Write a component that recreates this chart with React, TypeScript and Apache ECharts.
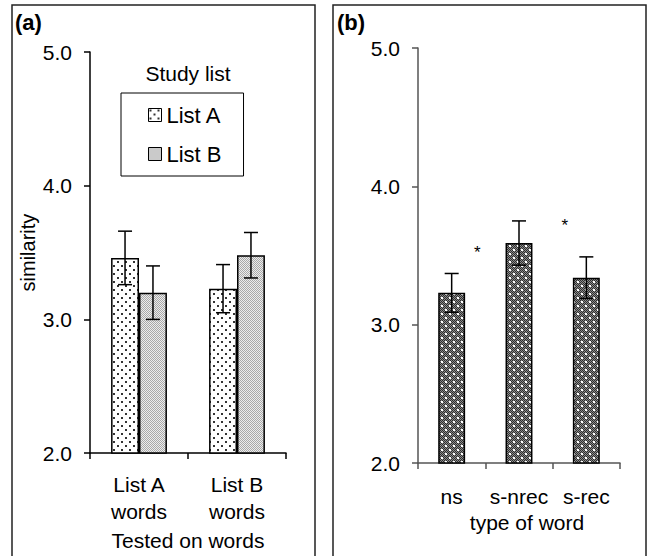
import React, { useEffect, useRef } from 'react';
import * as echarts from 'echarts';

// ---- data ----
const panelACategories = ['List A\nwords', 'List B\nwords'];
const studyListNames = ['List A', 'List B'];
const listAMeans = [3.46, 3.23];
const listAErrors = [0.2, 0.18];
const listBMeans = [3.2, 3.48];
const listBErrors = [0.2, 0.17];

const panelBCategories = ['ns', 's-nrec', 's-rec'];
const wordTypeMeans = [3.23, 3.59, 3.34];
const wordTypeErrors = [0.14, 0.16, 0.15];
// asterisk marks: value and offset (in bands) from first category
const asteriskValues = [3.56, 3.75];
const asteriskOffsets = [0.38, 1.68];

const yMin = 2;
const yMax = 5;
const yInterval = 1;

const FONT = '"Liberation Sans", Arial, sans-serif';

function makeTile(size: number, draw: (ctx: CanvasRenderingContext2D) => void) {
  const c = document.createElement('canvas');
  c.width = size;
  c.height = size;
  const ctx = c.getContext('2d')!;
  draw(ctx);
  return { image: c, repeat: 'repeat' } as any;
}

export default function App() {
  const ref = useRef<HTMLDivElement>(null);
  useEffect(() => {
    if (!ref.current) return;
    const chart = echarts.init(ref.current, undefined, { renderer: 'svg' });

    const patA = makeTile(8, (ctx) => {
      ctx.fillStyle = '#ffffff';
      ctx.fillRect(0, 0, 8, 8);
      ctx.fillStyle = '#333333';
      ctx.fillRect(1, 1, 2, 2);
      ctx.fillRect(5, 5, 2, 2);
    });
    const patB = makeTile(2, (ctx) => {
      ctx.fillStyle = '#ececec';
      ctx.fillRect(0, 0, 2, 2);
      ctx.fillStyle = '#a8a8a8';
      ctx.fillRect(0, 0, 1, 1);
      ctx.fillRect(1, 1, 1, 1);
    });
    const patC = makeTile(8, (ctx) => {
      ctx.fillStyle = '#8c8c8c';
      ctx.fillRect(0, 0, 8, 8);
      ctx.fillStyle = '#2e2e2e';
      for (let y = 0; y < 8; y++) for (let x = 0; x < 8; x++) if ((x + y) % 2 === 0) ctx.fillRect(x, y, 1, 1);
      ctx.fillStyle = '#ffffff';
      ctx.fillRect(1, 1, 2, 2);
      ctx.fillRect(5, 5, 2, 2);
    });

    const gapA = 0.43;
    const gapB = 0.6;

    const errRender = (sign: number, gap: number, nSeries: number) => (params: any, api: any) => {
      const x = api.value(0);
      const m = api.value(1);
      const e = api.value(2);
      const band = api.size([1, 0])[0];
      const bw = (band * (1 - gap)) / nSeries;
      const top = api.coord([x, m + e]);
      const bot = api.coord([x, m - e]);
      const cx = top[0] + (sign * bw) / 2;
      const cap = 7;
      const st = { stroke: '#000', lineWidth: 1.5 };
      return {
        type: 'group',
        children: [
          { type: 'line', shape: { x1: cx, y1: top[1], x2: cx, y2: bot[1] }, style: st },
          { type: 'line', shape: { x1: cx - cap, y1: top[1], x2: cx + cap, y2: top[1] }, style: st },
          { type: 'line', shape: { x1: cx - cap, y1: bot[1], x2: cx + cap, y2: bot[1] }, style: st },
        ],
      };
    };

    const yAxisBase = (color: string) => ({
      type: 'value',
      min: yMin,
      max: yMax,
      interval: yInterval,
      axisLine: { show: true, lineStyle: { color, width: 1.5 } },
      axisTick: { show: true, length: 6, lineStyle: { color, width: 1.5 } },
      splitLine: { show: false },
      axisLabel: {
        formatter: (v: number) => v.toFixed(1),
        fontSize: 21,
        color: '#000',
        fontFamily: FONT,
        margin: 18,
      },
    });

    const option: any = {
      animation: false,
      backgroundColor: '#fff',
      textStyle: { fontFamily: FONT },
      graphic: [
        { type: 'rect', shape: { x: 12, y: 5, width: 303, height: 600 }, style: { fill: 'none', stroke: '#222', lineWidth: 1.5 }, z: -1 },
        { type: 'rect', shape: { x: 333, y: 5, width: 313, height: 600 }, style: { fill: 'none', stroke: '#222', lineWidth: 1.5 }, z: -1 },
        { type: 'text', left: 15, top: 11, style: { text: '(a)', font: `bold 22px ${FONT}`, fill: '#000' } },
        { type: 'text', left: 337, top: 11, style: { text: '(b)', font: `bold 22px ${FONT}`, fill: '#000' } },
        { type: 'text', x: 188, y: 73, style: { text: 'Study list', font: `21px ${FONT}`, fill: '#000', align: 'center', verticalAlign: 'middle' } },
      ],
      legend: {
        data: studyListNames,
        orient: 'vertical',
        left: 121,
        top: 93,
        padding: [11, 22, 11, 27],
        itemGap: 17,
        itemWidth: 13,
        itemHeight: 13,
        icon: 'rect',
        borderColor: '#000',
        borderWidth: 1,
        backgroundColor: '#fff',
        textStyle: { fontSize: 22, color: '#000', fontFamily: FONT },
        itemStyle: { borderColor: '#000', borderWidth: 1 },
      },
      grid: [
        { left: 90, right: 363, top: 52, bottom: 99 },
        { left: 418, right: 29, top: 48, bottom: 93 },
      ],
      xAxis: [
        {
          type: 'category',
          gridIndex: 0,
          data: panelACategories,
          axisLine: { lineStyle: { color: '#000', width: 1.5 } },
          axisTick: { show: true, length: 6, lineStyle: { color: '#000', width: 1.5 } },
          axisLabel: { interval: 0, fontSize: 21, color: '#000', fontFamily: FONT, margin: 18, lineHeight: 27 },
          name: 'Tested on words',
          nameLocation: 'middle',
          nameGap: 72,
          nameTextStyle: { fontSize: 21, color: '#000', fontFamily: FONT },
        },
        {
          type: 'category',
          gridIndex: 1,
          data: panelBCategories,
          axisLine: { lineStyle: { color: '#555', width: 1.5 } },
          axisTick: { show: true, length: 6, lineStyle: { color: '#555', width: 1.5 } },
          axisLabel: { interval: 0, fontSize: 21, color: '#000', fontFamily: FONT, margin: 23 },
          name: 'type of word',
          nameLocation: 'middle',
          nameGap: 43,
          nameTextStyle: { fontSize: 21, color: '#000', fontFamily: FONT, padding: [0, 0, 0, 16] },
        },
      ],
      yAxis: [
        {
          ...yAxisBase('#000'),
          gridIndex: 0,
          name: 'similarity',
          nameLocation: 'middle',
          nameRotate: 90,
          nameGap: 52,
          nameTextStyle: { fontSize: 20, color: '#000', fontFamily: FONT },
        },
        { ...yAxisBase('#555'), gridIndex: 1 },
      ],
      series: [
        {
          name: 'List A',
          type: 'bar',
          xAxisIndex: 0,
          yAxisIndex: 0,
          data: listAMeans,
          barGap: '0%',
          barCategoryGap: `${gapA * 100}%`,
          itemStyle: { color: patA, borderColor: '#000', borderWidth: 1.5 },
        },
        {
          name: 'List B',
          type: 'bar',
          xAxisIndex: 0,
          yAxisIndex: 0,
          data: listBMeans,
          barGap: '0%',
          barCategoryGap: `${gapA * 100}%`,
          itemStyle: { color: patB, borderColor: '#000', borderWidth: 1.5 },
        },
        {
          name: 'errA',
          type: 'custom',
          xAxisIndex: 0,
          yAxisIndex: 0,
          silent: true,
          z: 10,
          renderItem: errRender(-1, gapA, 2),
          data: listAMeans.map((m, i) => [i, m, listAErrors[i]]),
        },
        {
          name: 'errB',
          type: 'custom',
          xAxisIndex: 0,
          yAxisIndex: 0,
          silent: true,
          z: 10,
          renderItem: errRender(1, gapA, 2),
          data: listBMeans.map((m, i) => [i, m, listBErrors[i]]),
        },
        {
          name: 'word type',
          type: 'bar',
          xAxisIndex: 1,
          yAxisIndex: 1,
          data: wordTypeMeans,
          barCategoryGap: `${gapB * 100}%`,
          itemStyle: { color: patC, borderColor: '#000', borderWidth: 1.5 },
        },
        {
          name: 'errWord',
          type: 'custom',
          xAxisIndex: 1,
          yAxisIndex: 1,
          silent: true,
          z: 10,
          renderItem: errRender(0, gapB, 1),
          data: wordTypeMeans.map((m, i) => [i, m, wordTypeErrors[i]]),
        },
        {
          name: 'asterisks',
          type: 'custom',
          xAxisIndex: 1,
          yAxisIndex: 1,
          silent: true,
          z: 10,
          renderItem: (params: any, api: any) => {
            const base = api.coord([0, api.value(1)]);
            const band = api.size([1, 0])[0];
            return {
              type: 'text',
              x: base[0] + api.value(2) * band,
              y: base[1] + 5,
              style: { text: '*', font: `17px ${FONT}`, fill: '#000', align: 'center', verticalAlign: 'middle' },
            };
          },
          data: asteriskValues.map((v, i) => [0, v, asteriskOffsets[i]]),
        },
      ],
    };
    chart.setOption(option);
    return () => chart.dispose();
  }, []);
  return <div ref={ref} style={{ position: 'absolute', left: 0, top: 0, width: 649, height: 556 }} />;
}
